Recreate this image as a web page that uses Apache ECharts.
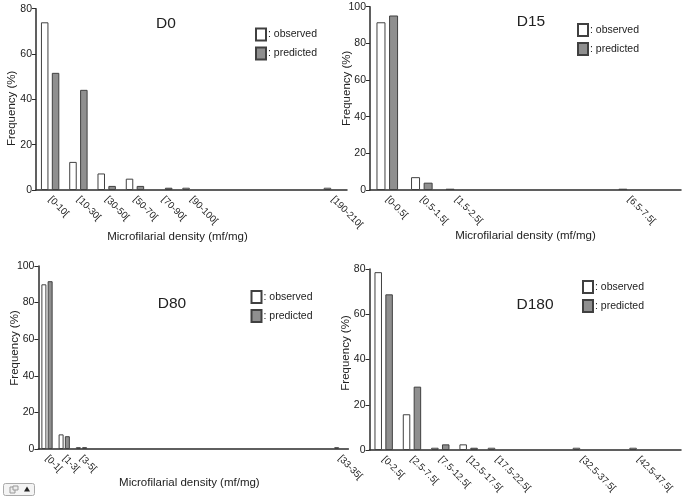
<!DOCTYPE html>
<html><head><meta charset="utf-8">
<style>html,body{margin:0;padding:0;background:#fff}#c{width:684px;height:499px}</style>
<script src="https://cdn.jsdelivr.net/npm/echarts@6/dist/echarts.min.js"></script>
</head><body><div id="c"></div>
<script>
const catD0 = ['[0-10[','[10-30[','[30-50[','[50-70[','[70-90[','[90-100[','','','','','[190-210['];
const obsD0 = [74,12.4,7.3,5,null,1,null,null,null,null,1];
const preD0 = [51.7,44.2,1.8,1.8,1,null,null,null,null,null,null];
const catD15 = ['[0-0.5[','[0.5-1.5[','[1.5-2.5[','','','','','[6.5-7.5[',''];
const obsD15 = [91.5,7,0.7,null,null,null,null,0.7,null];
const preD15 = [95.2,4,null,null,null,null,null,null,null];
const catD80 = ['[0-1[','[1-3[','[3-5[','','','','','','','','','','','','','','','[33-35['];
const obsD80 = [90,8,1,null,null,null,null,null,null,null,null,null,null,null,null,null,null,1];
const preD80 = [91.7,7,1,null,null,null,null,null,null,null,null,null,null,null,null,null,null,null];
const catD180 = ['[0-2.5[','[2.5-7.5[','[7.5-12.5[','[12.5-17.5[','[17.5-22.5[','','','[32.5-37.5[','','[42.5-47.5[',''];
const obsD180 = [78.6,15.8,1,2.5,1,null,null,1,null,1,null];
const preD180 = [68.8,28,2.5,1,null,null,null,null,null,null,null];

const xTitle = 'Microfilarial density (mf/mg)', yTitle = 'Frequency (%)';
const ink = '#2b2b2b', txt = '#222', font = 'Liberation Sans';

const panels = [
 {t:'D0',  cat:catD0,  o:obsD0,  p:preD0,  max:80, g:[36,8.7,311,181.3], bw:7.5, gap:'45%', tp:[166,16], lg:[255,27.5], xp:28, xgap:41, ygap:18, yp:[0,18,0,0]},
 {t:'D15', cat:catD15, o:obsD15, p:preD15, max:100,g:[370,6.7,311,183.3], bw:9, gap:'40%', tp:[531,14], lg:[577,23], xp:0, xgap:39.5, ygap:17, yp:[0,0,0,20]},
 {t:'D80', cat:catD80, o:obsD80, p:preD80, max:100,g:[38.4,266,310,183], bw:5, gap:'25%', tp:[172,296], lg:[250.5,290], xp:8, xgap:28, ygap:18, yp:[0,0,0,19]},
 {t:'D180',cat:catD180,o:obsD180,p:preD180,max:80, g:[369.5,269,311.5,181], bw:7.5, gap:'45%', tp:[535,297], lg:[582,280], xp:0, xgap:0, ygap:18, yp:[0,0,0,13]}
];

const option = {animation:false,backgroundColor:'#fff',textStyle:{fontFamily:font,color:txt},
 title:[],legend:[],grid:[],xAxis:[],yAxis:[],series:[],
 graphic:[
  {type:'rect',shape:{x:3.5,y:483.5,width:31,height:12,r:2},style:{fill:'#f4f4f4',stroke:'#aaa',lineWidth:1}},
  {type:'rect',shape:{x:10,y:487,width:5,height:6},style:{fill:'#eee',stroke:'#999',lineWidth:1}},
  {type:'rect',shape:{x:13,y:486,width:5,height:4},style:{fill:'#eee',stroke:'#999',lineWidth:1}},
  {type:'polygon',shape:{points:[[27,486.5],[24,491.5],[30,491.5]]},style:{fill:'#222'}}
 ]};

panels.forEach((p,i)=>{
 option.title.push({text:p.t,left:p.tp[0],top:p.tp[1],textAlign:'center',padding:0,
   textStyle:{fontFamily:font,fontSize:15.5,fontWeight:'normal',color:txt}});
 option.legend.push({data:['observed','predicted'],orient:'vertical',left:p.lg[0],top:p.lg[1],padding:0,
   itemWidth:10,itemHeight:12,itemGap:5,icon:'rect',selectedMode:false,
   formatter:n=>': '+n,textStyle:{fontFamily:font,fontSize:10.5,color:txt,padding:[4,0,0,-3]}});
 option.grid.push({left:p.g[0],top:p.g[1],width:p.g[2],height:p.g[3],containLabel:false,outerBoundsMode:'none'});
 option.xAxis.push({type:'category',gridIndex:i,data:p.cat,boundaryGap:true,
   axisLine:{lineStyle:{color:ink,width:1.5}},
   axisTick:{alignWithLabel:true,interval:0,length:3,lineStyle:{color:ink,width:1}},
   axisLabel:{interval:0,rotate:-45,margin:8,fontSize:9.5,color:txt,fontFamily:font,padding:[10,0,0,0]},
   name:i===3?'':xTitle,nameLocation:'middle',nameGap:p.xgap,nameMoveOverlap:false,
   nameTextStyle:{fontSize:11.5,color:txt,fontFamily:font,padding:[0,p.xp,0,0]}});
 option.yAxis.push({type:'value',gridIndex:i,min:0,max:p.max,interval:20,splitLine:{show:false},
   axisLine:{show:true,lineStyle:{color:ink,width:1.5}},
   axisTick:{show:true,length:4,lineStyle:{color:ink,width:1}},
   axisLabel:{margin:4,fontSize:10.5,color:txt,fontFamily:font},
   name:yTitle,nameLocation:'middle',nameGap:p.ygap,nameMoveOverlap:false,
   nameTextStyle:{fontSize:11.5,color:txt,fontFamily:font,padding:p.yp}});
 const common={type:'bar',xAxisIndex:i,yAxisIndex:i,barWidth:p.bw,barGap:p.gap};
 option.series.push({...common,name:'observed',data:p.o,itemStyle:{color:'#fff',borderColor:'#404040',borderWidth:1}});
 option.series.push({...common,name:'predicted',data:p.p,itemStyle:{color:'#8f8f8f',borderColor:'#404040',borderWidth:1}});
});
echarts.init(document.getElementById('c'),null,{renderer:'canvas'}).setOption(option);
</script></body></html>
